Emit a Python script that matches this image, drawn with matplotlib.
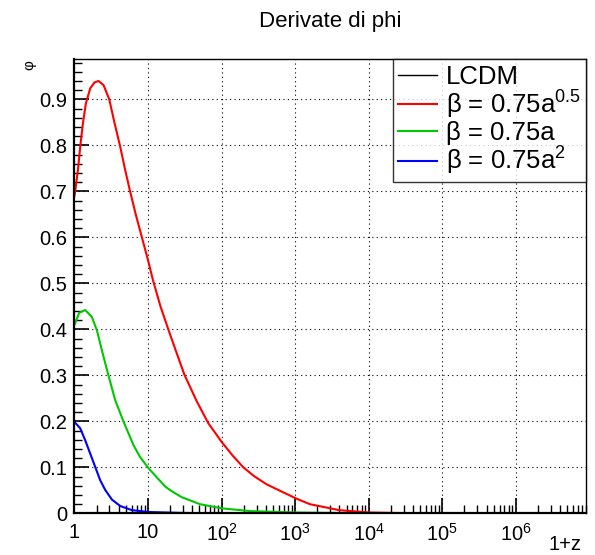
import matplotlib
matplotlib.use("Agg")
import matplotlib.pyplot as plt
from matplotlib.ticker import LogLocator, FixedLocator, MultipleLocator, NullFormatter

plt.rcParams['font.family'] = ['Liberation Sans', 'DejaVu Sans']
plt.rcParams['mathtext.fontset'] = 'custom'
plt.rcParams['mathtext.rm'] = 'Liberation Sans'
plt.rcParams['mathtext.it'] = 'Liberation Sans'

# values (x = 1+z)
lcdm_x = [1.0, 9e6]
lcdm_y = [0.0, 0.0]

red_x = [1.0, 1.023, 1.117, 1.2, 1.306, 1.432, 1.641, 1.879, 2.133, 2.495, 2.979,
         3.524, 4.198, 4.909, 5.741, 6.871, 8.279, 10.0, 11.7, 14.8, 18.9, 25.0, 31.2,
         45.9, 66.1, 100.7, 141, 198, 282, 412, 1023, 1585, 3981, 1e4, 31623, 1e5, 9e6]
red_y = [0.69, 0.699, 0.746, 0.797, 0.848, 0.891, 0.924, 0.937, 0.940, 0.931, 0.90,
         0.848, 0.797, 0.746, 0.699, 0.648, 0.60, 0.551, 0.507, 0.45, 0.40, 0.345, 0.302,
         0.244, 0.196, 0.155, 0.126, 0.10, 0.08, 0.063, 0.0326, 0.020, 0.007, 0.002,
         0.0005, 0.0, 0.0]

green_x = [1.0, 1.023, 1.161, 1.403, 1.73, 2.023, 2.421, 2.917, 3.589, 4.667, 6.383,
           7.78, 10.2, 17.2, 22.1, 29.0, 50.9, 100, 245, 1000, 1e4, 9e6]
green_y = [0.41, 0.413, 0.436, 0.442, 0.427, 0.398, 0.348, 0.299, 0.246, 0.199, 0.148,
           0.123, 0.098, 0.058, 0.046, 0.035, 0.020, 0.011, 0.005, 0.002, 0.0, 0.0]

blue_x = [1.0, 1.2, 1.403, 1.641, 1.919, 2.244, 2.624, 3.236, 4.198, 6.053, 10.2,
          28.8, 100, 9e6]
blue_y = [0.199, 0.185, 0.159, 0.130, 0.101, 0.072, 0.051, 0.030, 0.016, 0.007, 0.003,
          0.001, 0.0, 0.0]

xticks = [1, 10, 1e2, 1e3, 1e4, 1e5, 1e6]
xticklabels = ['1', '10', '$10^{2}$', '$10^{3}$', '$10^{4}$', '$10^{5}$', '$10^{6}$']
yticks = [0, 0.1, 0.2, 0.3, 0.4, 0.5, 0.6, 0.7, 0.8, 0.9]
yticklabels = ['0', '0.1', '0.2', '0.3', '0.4', '0.5', '0.6', '0.7', '0.8', '0.9']
labels = ['LCDM', 'β = 0.75a$^{0.5}$', 'β = 0.75a', 'β = 0.75a$^{2}$']

fig = plt.figure(figsize=(5.95, 5.55), dpi=100)
ax = fig.add_axes([0.125, 0.075, 0.86, 0.818])

ax.plot(lcdm_x, lcdm_y, color='black', lw=1.0, label=labels[0])
ax.plot(red_x, red_y, color='#ff0000', lw=1.5, label=labels[1])
ax.plot(green_x, green_y, color='#00c800', lw=1.5, label=labels[2])
ax.plot(blue_x, blue_y, color='#0000ff', lw=1.5, label=labels[3])

ax.set_xscale('log')
ax.set_xlim(1, 9e6)
ax.set_ylim(0, 0.987)

ax.xaxis.set_major_locator(FixedLocator(xticks))
ax.set_xticks(xticks)
ax.set_xticklabels(xticklabels)
ax.xaxis.set_minor_locator(LogLocator(base=10, subs=range(2, 10), numticks=20))
ax.xaxis.set_minor_formatter(NullFormatter())
ax.yaxis.set_minor_locator(MultipleLocator(0.02))
ax.set_yticks(yticks)
ax.set_yticklabels(yticklabels)

ax.tick_params(which='both', direction='in', top=False, right=False, labelsize=14.5)
ax.tick_params(which='major', length=11, width=1.2)
ax.tick_params(which='minor', length=6, width=1.0)
ax.tick_params(axis='x', pad=7)
ax.tick_params(axis='y', pad=5)

ax.grid(True, which='major', color='black', linestyle=(0, (1, 3)), linewidth=0.8)
for side in ['left', 'bottom']:
    ax.spines[side].set_linewidth(1.6)
for side in ['top', 'right']:
    ax.spines[side].set_linewidth(1.0)

fig.text(0.555, 0.962, 'Derivate di phi', ha='center', va='center', fontsize=16)
fig.text(565 / 595, 1 - 545 / 555, '1+z', ha='center', va='center', fontsize=14.5)
fig.text(0.05, 0.882, 'φ', rotation=90, ha='center', va='center', fontsize=11)

leg = ax.legend(loc='upper right', bbox_to_anchor=(1.0, 1.0), borderaxespad=0,
                fancybox=False, frameon=True, fontsize=18.5, handlelength=1.5,
                handletextpad=0.35, labelspacing=0.0, borderpad=0.2)
leg.get_frame().set_edgecolor('black')
leg.get_frame().set_linewidth(1.0)

fig.savefig('out.png', dpi=100)
